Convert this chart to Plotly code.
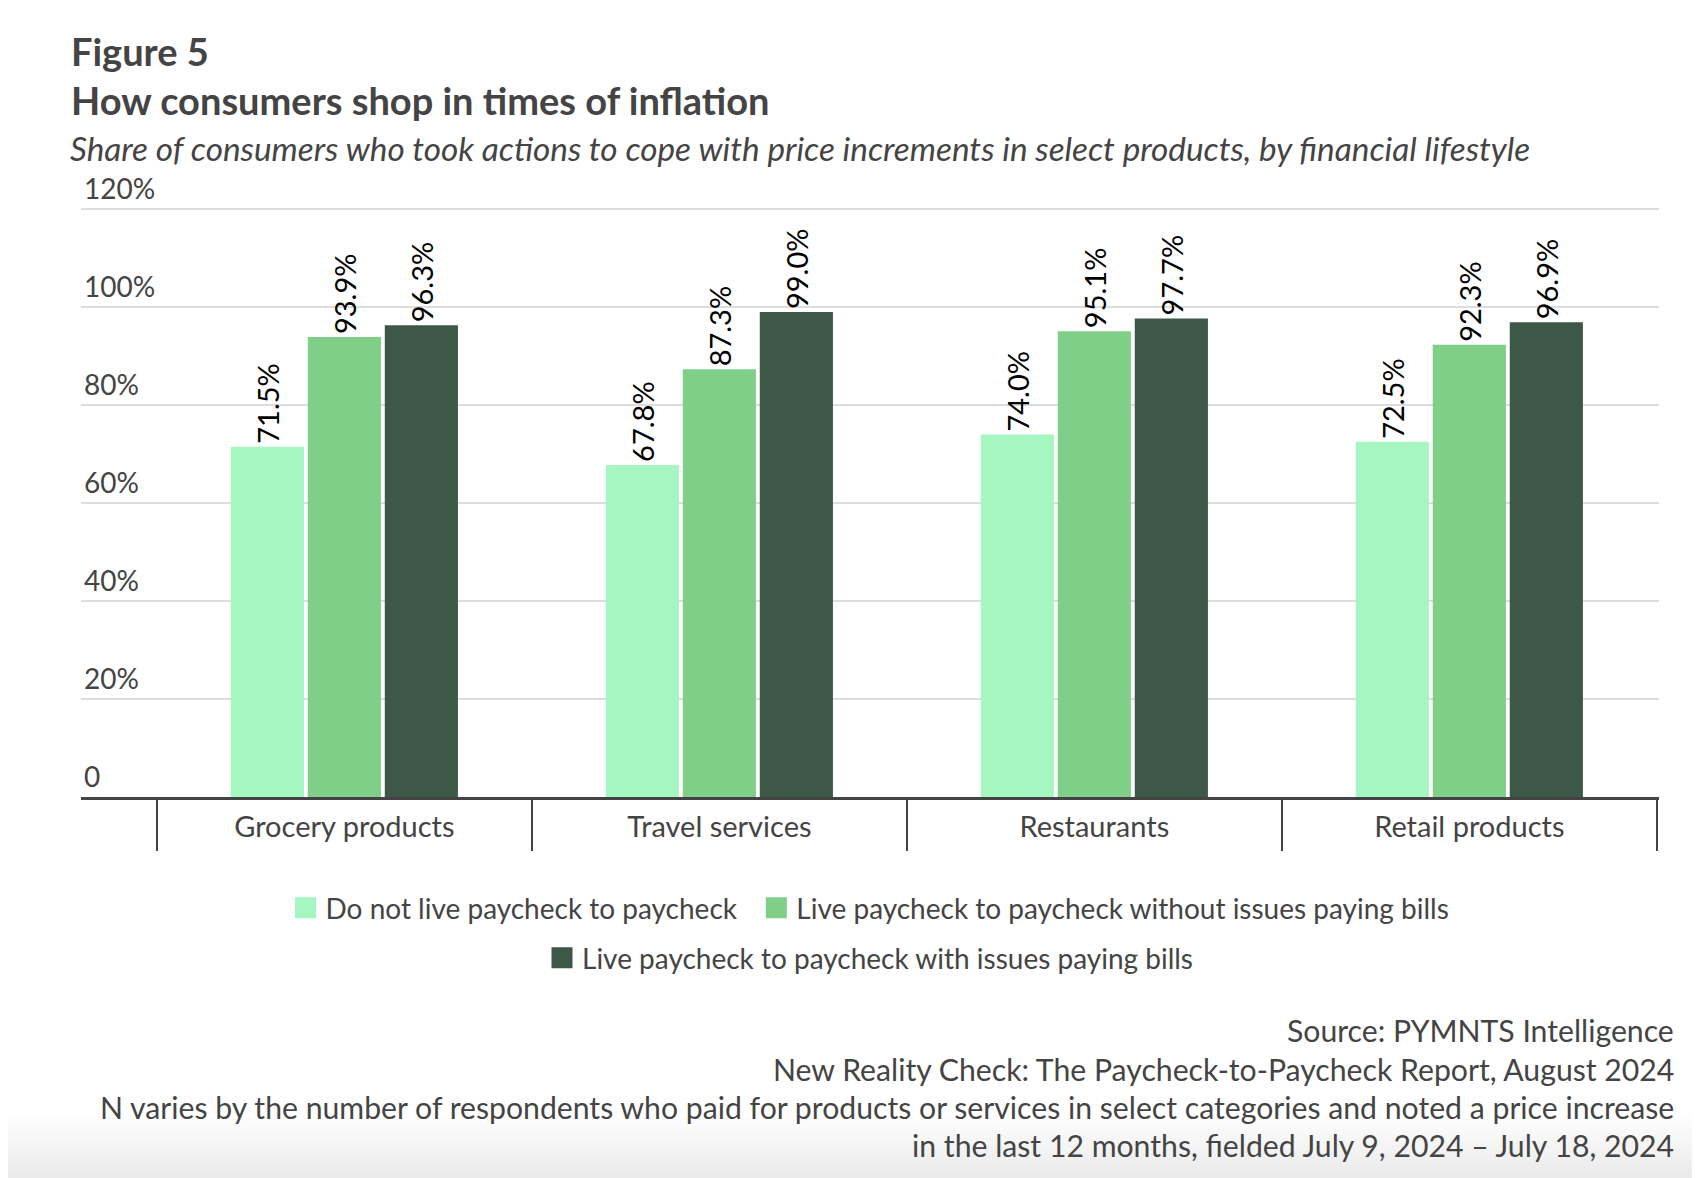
import plotly.graph_objects as go

categories = ["Grocery products", "Travel services", "Restaurants", "Retail products"]
series_names = [
    "Do not live paycheck to paycheck",
    "Live paycheck to paycheck without issues paying bills",
    "Live paycheck to paycheck with issues paying bills",
]
not_p2p = [71.5, 67.8, 74.0, 72.5]
p2p_no_issues = [93.9, 87.3, 95.1, 92.3]
p2p_issues = [96.3, 99.0, 97.7, 96.9]
colors = ["#a5f6c1", "#80cf88", "#3d5847"]
y_tickvals = [0, 20, 40, 60, 80, 100, 120]
y_ticktext = ["0", "20%", "40%", "60%", "80%", "100%", "120%"]

FONT = "Lato"
GRAY = "#444444"

W, H = 1700, 1178
L, R, T, B = 73, 49, 162, 389
PH = H - T - B

def py(pix):
    return (H - B - pix) / PH

def px(pix):
    return (pix - L) / (W - L - R)

xpos = list(range(len(categories)))
fig = go.Figure()
legends = ["legend", "legend", "legend2"]
for name, vals, col in zip(series_names, [not_p2p, p2p_no_issues, p2p_issues], colors):
    fig.add_trace(go.Bar(
        x=xpos, y=vals, name=name, marker=dict(color=col, line=dict(width=0)),
        text=[f"{v:.1f}%" for v in vals], textposition="outside", textangle=-90,
        textfont=dict(family=FONT, size=29, color="#000000"), constraintext="none",
        cliponaxis=False, showlegend=False, hoverinfo="skip",
    ))
# legend entries (square swatches)
legend_labels = [series_names[0] + "\u00a0\u00a0", series_names[1], series_names[2]]
for name, col, lg in zip(legend_labels, colors, legends):
    fig.add_trace(go.Scatter(
        x=[None], y=[None], mode="markers", name=name, legend=lg,
        marker=dict(symbol="square", size=16, color=col, line=dict(width=5, color=col)),
        hoverinfo="skip",
    ))

fig.update_layout(
    width=W, height=H,
    margin=dict(l=L, r=R, t=T, b=B),
    paper_bgcolor="white", plot_bgcolor="white",
    barmode="group", bargap=0.384, bargroupgap=0.05,
    font=dict(family=FONT, color=GRAY, size=28),
    legend=dict(orientation="h", x=0.5, xanchor="center", y=py(900), yanchor="middle",
                font=dict(family=FONT, size=28, color=GRAY), itemclick=False,
                traceorder="normal", tracegroupgap=0),
    legend2=dict(orientation="h", x=0.5, xanchor="center", y=py(950), yanchor="middle",
                 font=dict(family=FONT, size=28, color=GRAY), itemclick=False),
    xaxis=dict(
        range=[-0.5 - 70 / 346, 3.5 + 2 / 346],
        tickmode="array", tickvals=xpos, ticktext=categories, ticks="",
        showline=True, linecolor=GRAY, linewidth=3, showgrid=False, zeroline=False,
        tickfont=dict(family=FONT, size=29, color=GRAY), ticklabelstandoff=2,
        minor=dict(tick0=0.5, dtick=1, ticks="outside", ticklen=51, tickwidth=2,
                   tickcolor=GRAY, showgrid=False),
    ),
    yaxis=dict(
        range=[0, 128], tickmode="array", tickvals=y_tickvals, ticktext=y_ticktext,
        ticks="", ticklabelposition="inside top", showline=False,
        showgrid=True, gridcolor="#dddddd", gridwidth=1.5, zeroline=False,
        tickfont=dict(family=FONT, size=28, color=GRAY),
    ),
    showlegend=True,
)

ann = [
    dict(text="<b>Figure 5</b>", x=px(61), y=py(43), size=38),
    dict(text="<b>How consumers shop in times of inflation</b>", x=px(61), y=py(92), size=38),
    dict(text="<i>Share of consumers who took actions to cope with price increments in select products, by financial lifestyle</i>",
         x=px(60), y=py(140), size=33.3),
]
for a in ann:
    fig.add_annotation(text=a["text"], xref="paper", yref="paper", x=a["x"], y=a["y"],
                       xanchor="left", yanchor="middle", showarrow=False,
                       font=dict(family=FONT, size=a["size"], color=GRAY))

source_lines = [
    "Source: PYMNTS Intelligence",
    "New Reality Check: The Paycheck-to-Paycheck Report, August 2024",
    "N varies by the number of respondents who paid for products or services in select categories and noted a price increase",
    "in the last 12 months, fielded July 9, 2024 – July 18, 2024",
]
source_y = [1022, 1061, 1099, 1137]
for t, yy in zip(source_lines, source_y):
    fig.add_annotation(text=t, xref="paper", yref="paper", x=px(1668), y=py(yy),
                       xanchor="right", yanchor="middle", showarrow=False,
                       font=dict(family=FONT, size=30.2, color=GRAY))

# subtle bottom shading (page edge), drawn as cumulative translucent bands
n_strips = 24
top_y, bot_y = 1105, 1180
step = (bot_y - top_y) / n_strips
for i in range(n_strips):
    y0 = top_y + i * step
    fig.add_shape(type="rect", xref="paper", yref="paper", x0=px(-20), x1=px(W + 20),
                  y0=py(bot_y), y1=py(y0), fillcolor="#000000",
                  opacity=0.0042, line=dict(width=0), layer="below")

fig.write_html("out.html")
